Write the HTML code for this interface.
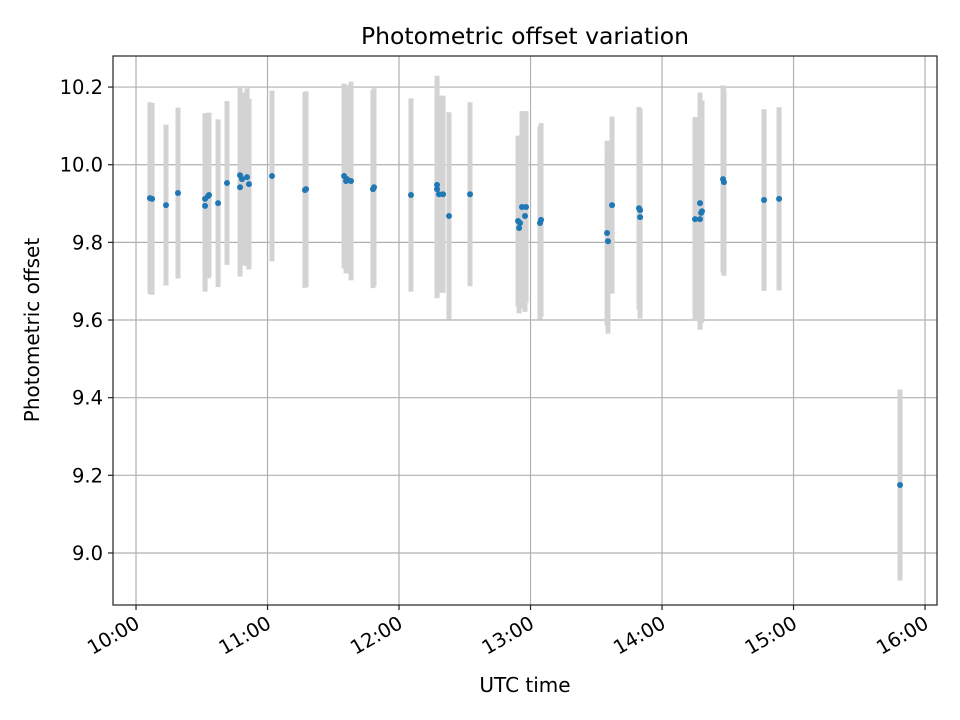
<!DOCTYPE html>
<html><head><meta charset="utf-8"><style>
html,body{margin:0;padding:0;background:#fff;}
svg{display:block;font-family:"DejaVu Sans","Liberation Sans",sans-serif;}
</style></head><body>
<svg id="chart" width="960" height="720" viewBox="0 0 960 720">
<rect width="960" height="720" fill="#fff"/>
<text x="525" y="44" text-anchor="middle" font-size="23.5">Photometric offset variation</text>
<g id="grid"></g>
<g id="bars"></g>
<g id="pts"></g>
<rect x="113" y="56" width="824" height="549" fill="none" stroke="#222" stroke-width="1.2"/>
<g id="axes"></g>
<text x="525" y="692" text-anchor="middle" font-size="20">UTC time</text>
<text transform="translate(39,330) rotate(-90)" text-anchor="middle" font-size="20">Photometric offset</text>
</svg>
<script>
// hours after 10:00 UTC
const times = [0.106,0.122,0.228,0.319,0.525,0.525,0.548,0.555,0.624,0.692,0.791,0.791,0.806,0.844,0.859,1.034,1.285,1.293,1.582,1.597,1.605,1.635,1.802,1.810,2.091,2.289,2.289,2.304,2.335,2.380,2.540,2.905,2.913,2.920,2.935,2.958,2.966,3.072,3.080,3.582,3.589,3.620,3.825,3.833,3.833,4.251,4.289,4.289,4.297,4.304,4.464,4.471,4.776,4.890,5.810];
const offsets = [9.914,9.912,9.896,9.927,9.912,9.894,9.919,9.922,9.901,9.953,9.973,9.942,9.963,9.968,9.950,9.971,9.935,9.937,9.971,9.958,9.963,9.958,9.937,9.942,9.922,9.948,9.937,9.924,9.924,9.868,9.924,9.855,9.837,9.850,9.891,9.868,9.891,9.850,9.858,9.824,9.803,9.896,9.888,9.865,9.883,9.860,9.901,9.860,9.876,9.880,9.963,9.955,9.909,9.912,9.175];
const errors = [0.247,0.247,0.207,0.220,0.221,0.221,0.212,0.212,0.216,0.211,0.230,0.230,0.223,0.229,0.220,0.220,0.252,0.252,0.238,0.238,0.242,0.256,0.255,0.255,0.249,0.281,0.281,0.254,0.254,0.267,0.237,0.220,0.220,0.220,0.247,0.247,0.247,0.249,0.249,0.238,0.238,0.228,0.261,0.261,0.261,0.263,0.285,0.285,0.285,0.285,0.241,0.241,0.234,0.236,0.246];
const yTicks = [9.0,9.2,9.4,9.6,9.8,10.0,10.2];
const xTickHours = [0,1,2,3,4,5,6];
const xTickLabels = ["10:00","11:00","12:00","13:00","14:00","15:00","16:00"];

const NS="http://www.w3.org/2000/svg";
const X0=113,X1=937,Y0=56,Y1=605;
const xmin=-0.175,xmax=6.091,ymin=8.866,ymax=10.280;
function sx(h){return X0+(h-xmin)/(xmax-xmin)*(X1-X0);}
function sy(v){return Y1-(v-ymin)/(ymax-ymin)*(Y1-Y0);}
function mk(tag,attrs,parent){const e=document.createElementNS(NS,tag);for(const k in attrs)e.setAttribute(k,attrs[k]);parent.appendChild(e);return e;}
const grid=document.getElementById('grid'),axes=document.getElementById('axes');
const bars=document.getElementById('bars'),pts=document.getElementById('pts');
yTicks.forEach(t=>{
  const y=sy(t);
  const g=mk('line',{x1:X0,x2:X1,y1:y,y2:y,stroke:'#b0b0b0','stroke-width':1.2},grid);
  
  
  const tk=mk('line',{x1:X0-5,x2:X0,y1:y,y2:y,stroke:'#222','stroke-width':1.2},axes);
  
  
  const tx=mk('text',{x:X0-10,y:y+7,'text-anchor':'end','font-size':19.5},axes);
  tx.textContent=t.toFixed(1);
  
  
});
xTickHours.forEach((h,i)=>{
  const x=sx(h);
  const g=mk('line',{x1:x,x2:x,y1:Y0,y2:Y1,stroke:'#b0b0b0','stroke-width':1.2},grid);
  
  
  const tk=mk('line',{x1:x,x2:x,y1:Y1,y2:Y1+5,stroke:'#222','stroke-width':1.2},axes);
  
  
  const tx=mk('text',{transform:`translate(${x+5},${Y1+22}) rotate(-30)`,'text-anchor':'end','font-size':19.5},axes);
  tx.textContent=xTickLabels[i];
  
  
});
times.forEach((h,i)=>{
  const x=sx(h);
  const b=mk('line',{x1:x,x2:x,y1:sy(offsets[i]+errors[i]),y2:sy(offsets[i]-errors[i]),stroke:'#d3d3d3','stroke-width':5},bars);
  
  
});
times.forEach((h,i)=>{
  const c=mk('circle',{cx:sx(h),cy:sy(offsets[i]),r:3,fill:'#1f77b4'},pts);
  
  
});
</script>
</body></html>
